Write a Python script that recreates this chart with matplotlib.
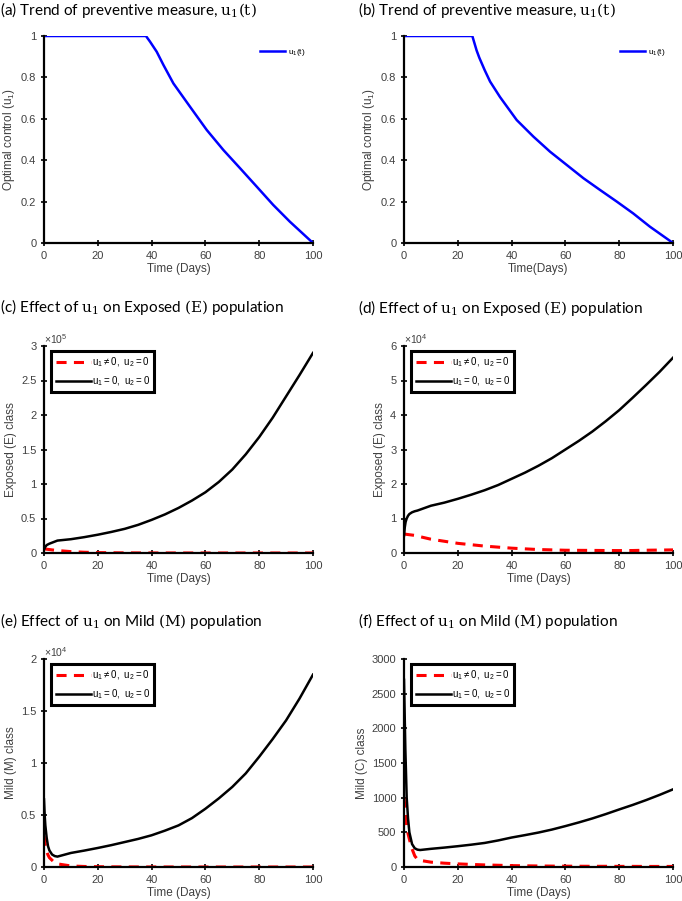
import numpy as np
import matplotlib
matplotlib.use("Agg")
import matplotlib.pyplot as plt
from matplotlib.ticker import FuncFormatter

plt.rcParams['font.family'] = ['Liberation Sans', 'DejaVu Sans']
plt.rcParams['mathtext.fontset'] = 'custom'
plt.rcParams['mathtext.rm'] = 'DejaVu Serif'
plt.rcParams['mathtext.it'] = 'DejaVu Serif:italic'
plt.rcParams['mathtext.sf'] = 'Liberation Sans'

# (a) u1(t), case 1
t_a = [0, 37.9, 39.4, 41.9, 44.4, 48.1, 54.3, 60.5, 66.7, 72.9, 79.1, 85.2, 91.4, 100]
u_a = [1, 1, 0.973, 0.924, 0.86, 0.771, 0.658, 0.546, 0.449, 0.361, 0.272, 0.184, 0.103, 0]

# (b) u1(t), case 2
t_b = [0, 25.4, 27, 28, 30, 32, 35.7, 41.9, 48.1, 54.3, 60.5, 66.7, 72.9, 79.1, 85.2, 91.4, 100]
u_b = [1, 1, 0.93, 0.895, 0.835, 0.78, 0.705, 0.594, 0.514, 0.441, 0.377, 0.313, 0.256, 0.2,
       0.143, 0.079, 0]

# (c) exposed, case 1
t_c = [0, 0.5, 1, 2, 3, 5, 10, 15, 20, 25, 30, 35, 40, 45, 50, 55, 60, 65, 70, 75, 80, 85,
       90, 95, 100]
e_c_ctrl = [6000, 5800, 5500, 5000, 4500, 3600, 2000, 1100, 600, 350, 200, 120, 80, 60, 40, 30,
            20, 15, 10, 8, 5, 4, 3, 2, 2]
e_c_none = [5000, 9000, 11500, 13500, 15000, 18000, 20000, 23000, 26500, 30500, 35000, 40800,
            48000, 56000, 65300, 76000, 88000, 103000, 121000, 143000, 168000, 196000, 227000,
            258000, 290000]

# (d) exposed, case 2
t_d = [0, 0.3, 0.6, 1, 1.5, 2, 3, 4, 5, 10, 15, 20, 25, 30, 35, 40, 45, 50, 55, 60, 65, 70,
       75, 80, 85, 90, 95, 100]
e_d_ctrl = [5500, 5480, 5450, 5400, 5350, 5300, 5200, 5100, 4900, 4000, 3400, 2800, 2400, 2000,
            1700, 1400, 1200, 1000, 900, 800, 770, 750, 720, 700, 720, 800, 850, 900]
e_d_none = [5000, 7500, 9000, 10000, 10800, 11300, 11800, 12100, 12300, 13700, 14600, 15700,
            16900, 18200, 19700, 21500, 23300, 25300, 27500, 30000, 32500, 35200, 38200, 41400,
            45000, 48700, 52500, 56600]

# (e) mild, case 1
t_e = [0, 0.25, 0.5, 1, 1.5, 2, 3, 4, 5, 10, 15, 20, 25, 30, 35, 40, 45, 50, 55, 60, 65, 70,
       75, 80, 85, 90, 95, 100]
m_e_ctrl = [3000, 2500, 2100, 1500, 1150, 900, 650, 400, 300, 100, 50, 30, 15, 10, 7, 5, 4, 3,
            2, 2, 1, 1, 1, 1, 1, 1, 1, 1]
m_e_none = [6500, 5000, 4000, 2800, 2000, 1600, 1200, 1050, 1000, 1350, 1580, 1830, 2100, 2400,
            2700, 3050, 3500, 4000, 4700, 5600, 6600, 7700, 9000, 10600, 12300, 14100, 16200,
            18500]

# (f) mild, case 2
t_f = [0, 0.5, 1, 1.5, 2, 3, 4, 5, 6, 10, 15, 20, 25, 30, 35, 40, 45, 50, 55, 60, 65, 70, 75,
       80, 85, 90, 95, 100]
m_f_ctrl = [1000, 800, 600, 480, 400, 260, 160, 110, 95, 70, 55, 45, 37, 30, 25, 20, 17, 15, 13,
            12, 11, 10, 10, 9, 9, 8, 8, 8]
m_f_none = [2700, 1700, 1000, 700, 500, 330, 270, 250, 245, 262, 280, 300, 322, 347, 383, 425,
            460, 497, 540, 590, 643, 700, 763, 830, 895, 965, 1040, 1120]

TICK_C = '#404040'
RED_DASH = (0, (3.3, 2.4))


def style(ax, xlabel, ylabel):
    for s in ['top', 'right']:
        ax.spines[s].set_visible(False)
    for s in ['left', 'bottom']:
        ax.spines[s].set_linewidth(1.6)
    ax.tick_params(direction='inout', length=4, width=1.2, labelsize=8, labelcolor=TICK_C)
    ax.set_xlim(0, 100)
    ax.set_xticks([0, 20, 40, 60, 80, 100])
    ax.set_xlabel(xlabel, fontsize=8.5, color=TICK_C, labelpad=2)
    ax.set_ylabel(ylabel, fontsize=8.5, color=TICK_C, labelpad=3)


def sci(ax, p, top, step):
    ax.set_ylim(0, top)
    ax.set_yticks(np.arange(0, top + step / 2, step))
    ax.yaxis.set_major_formatter(FuncFormatter(lambda v, pos: '%g' % (v / 10 ** p)))
    ax.text(0.0, 1.0, r'$\mathsf{\times 10^{%d}}$' % p, transform=ax.transAxes,
            fontsize=7.5, color=TICK_C, ha='left', va='bottom')


def compare_legend(ax):
    lg = ax.legend(loc='upper left', bbox_to_anchor=(0.02, 0.985), fontsize=7,
                   handlelength=3.6, borderpad=0.45, labelspacing=0.55, handletextpad=0.1,
                   borderaxespad=0.2, fancybox=False, framealpha=1)
    lg.get_frame().set_edgecolor('black')
    lg.get_frame().set_linewidth(2.2)


def control_legend(ax):
    ax.legend(loc='upper right', bbox_to_anchor=(1.0, 0.985), frameon=False, fontsize=6,
              handlelength=3, handletextpad=0.3)


fig = plt.figure(figsize=(6.82, 9.01), dpi=100)
W, H = 682, 901


def add(left, top, right, bottom):
    return fig.add_axes([left / W, 1 - bottom / H, (right - left) / W, (bottom - top) / H])


lbl_ctrl = r'$\mathsf{u_1 \neq 0,\ u_2 = 0}$'
lbl_none = r'$\mathsf{u_1 = 0,\ u_2 = 0}$'

# (a)
ax = add(44, 36, 313, 243)
ax.plot(t_a, u_a, color='#0000ff', lw=1.8, label=r'$\mathsf{u_1(t)}$')
ax.set_ylim(0, 1)
ax.set_yticks([0, 0.2, 0.4, 0.6, 0.8, 1])
ax.yaxis.set_major_formatter(FuncFormatter(lambda v, pos: '%g' % v))
style(ax, 'Time (Days)', r'Optimal control ($\mathsf{u_1}$)')
control_legend(ax)

# (b)
ax = add(404, 36, 673, 243)
ax.plot(t_b, u_b, color='#0000ff', lw=1.8, label=r'$\mathsf{u_1(t)}$')
ax.set_ylim(0, 1)
ax.set_yticks([0, 0.2, 0.4, 0.6, 0.8, 1])
ax.yaxis.set_major_formatter(FuncFormatter(lambda v, pos: '%g' % v))
style(ax, 'Time(Days)', r'Optimal control ($\mathsf{u_1}$)')
control_legend(ax)

# (c)
ax = add(44, 346, 313, 553)
ax.plot(t_c, e_c_ctrl, color='red', lw=2.2, ls=RED_DASH, label=lbl_ctrl)
ax.plot(t_c, e_c_none, color='black', lw=1.8, label=lbl_none)
style(ax, 'Time (Days)', 'Exposed (E) class')
sci(ax, 5, 300000, 50000)
compare_legend(ax)

# (d)
ax = add(404, 346, 673, 553)
ax.plot(t_d, e_d_ctrl, color='red', lw=2.2, ls=RED_DASH, label=lbl_ctrl)
ax.plot(t_d, e_d_none, color='black', lw=1.8, label=lbl_none)
style(ax, 'Time (Days)', 'Exposed (E) class')
sci(ax, 4, 60000, 10000)
compare_legend(ax)

# (e)
ax = add(44, 659, 313, 867)
ax.plot(t_e, m_e_ctrl, color='red', lw=2.2, ls=RED_DASH, label=lbl_ctrl)
ax.plot(t_e, m_e_none, color='black', lw=1.8, label=lbl_none)
style(ax, 'Time (Days)', 'Mild (M) class')
sci(ax, 4, 20000, 5000)
compare_legend(ax)

# (f)
ax = add(404, 659, 673, 867)
ax.plot(t_f, m_f_ctrl, color='red', lw=2.2, ls=RED_DASH, label=lbl_ctrl)
ax.plot(t_f, m_f_none, color='black', lw=1.8, label=lbl_none)
style(ax, 'Time (Days)', 'Mild (C) class')
ax.set_ylim(0, 3000)
ax.set_yticks(np.arange(0, 3001, 500))
compare_legend(ax)

# panel titles
TF = ['Lato', 'DejaVu Sans']
titles = [
    (0, 15, r'(a) Trend of preventive measure, $\mathrm{u}_1(\mathrm{t})$'),
    (358, 15, r'(b) Trend of preventive measure, $\mathrm{u}_1(\mathrm{t})$'),
    (0, 312, r'(c) Effect of $\mathrm{u}_1$ on Exposed $(\mathrm{E})$ population'),
    (358, 313, r'(d) Effect of $\mathrm{u}_1$ on Exposed $(\mathrm{E})$ population'),
    (0, 626, r'(e) Effect of $\mathrm{u}_1$ on Mild $(\mathrm{M})$ population'),
    (358, 626, r'(f) Effect of $\mathrm{u}_1$ on Mild $(\mathrm{M})$ population'),
]
for x, y, s in titles:
    fig.text(x / W, 1 - y / H, s, fontsize=11, family=TF, ha='left', va='baseline', color='black')

fig.savefig('out.png', dpi=100)
